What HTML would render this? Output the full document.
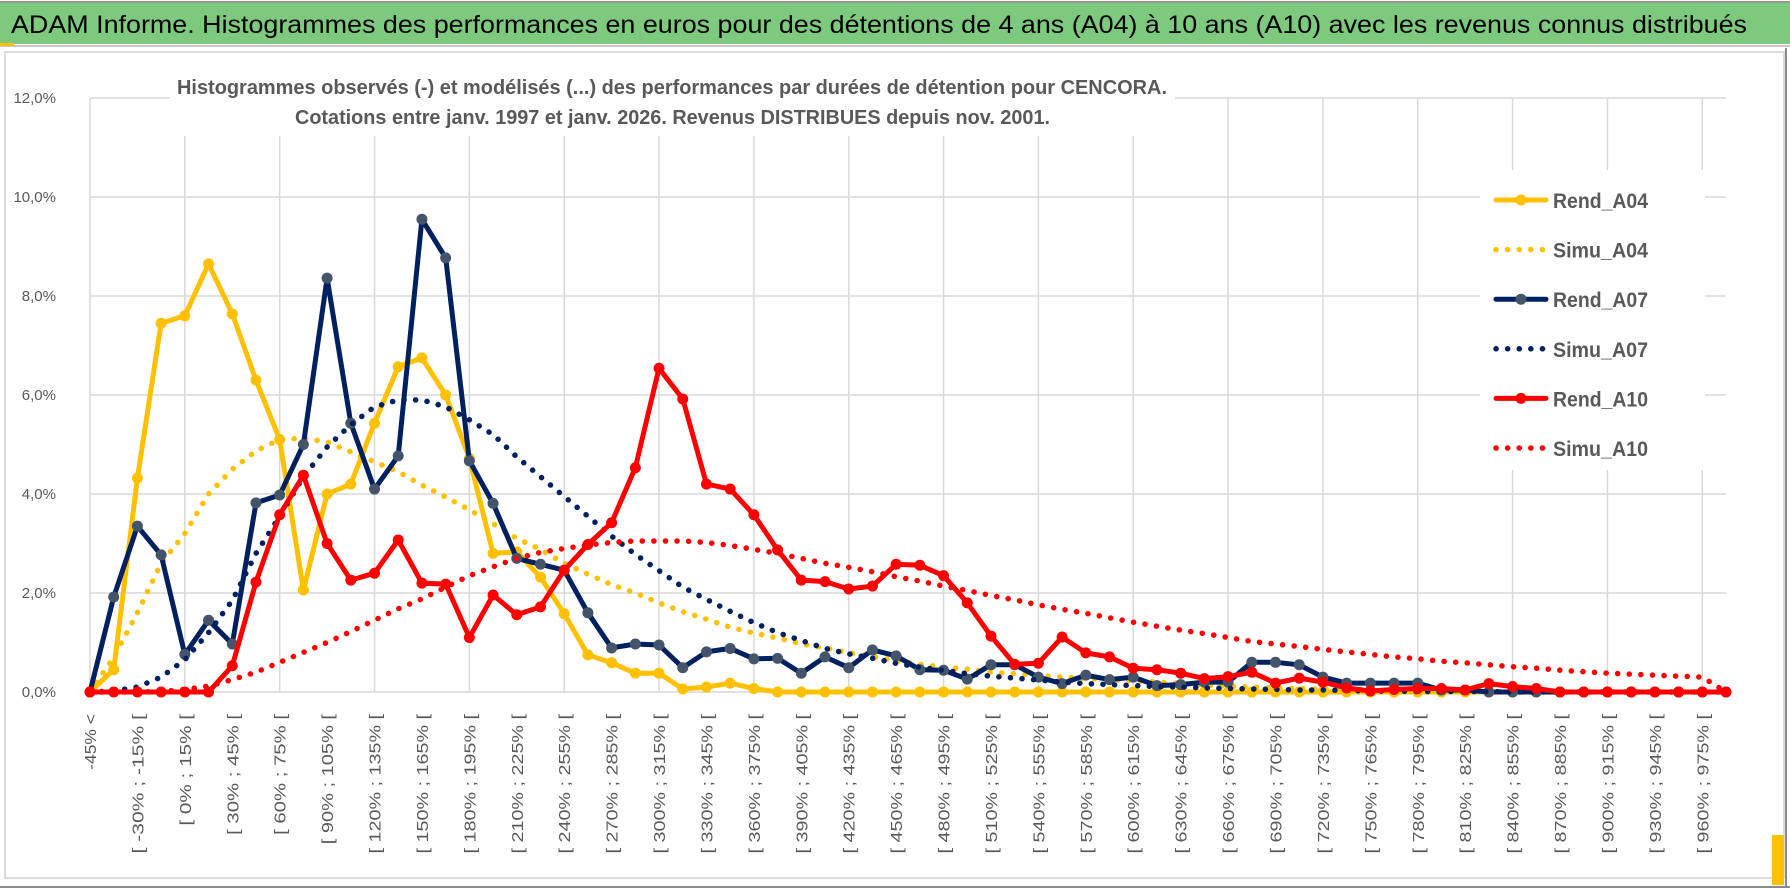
<!DOCTYPE html>
<html><head><meta charset="utf-8">
<style>
html,body{margin:0;padding:0;background:#fff;}
svg{display:block;}
text{font-family:"Liberation Sans",sans-serif;}
</style></head>
<body>
<svg id="chart" width="1790" height="888" viewBox="0 0 1790 888" xmlns="http://www.w3.org/2000/svg">
  <rect x="0" y="0" width="1790" height="888" fill="#ffffff"/>
  <rect x="0" y="3" width="1790" height="41" fill="#7dc97d"/>
  <line x1="0" y1="2" x2="1790" y2="2" stroke="#9a9a9a" stroke-width="2"/>
  <line x1="0" y1="46" x2="1790" y2="46" stroke="#c8c8c8" stroke-width="2"/>
  <rect x="0" y="43" width="14" height="3" fill="#ffc000"/>
  <text x="11" y="33" font-size="25" fill="#000" textLength="1736" lengthAdjust="spacingAndGlyphs">ADAM Informe. Histogrammes des performances en euros pour des détentions de 4 ans (A04) à 10 ans (A10) avec les revenus connus distribués</text>
  <rect x="5" y="52" width="1779" height="826" fill="none" stroke="#d0d0d0" stroke-width="1.5"/>
  <line x1="1786" y1="48" x2="1786" y2="888" stroke="#8a8a8a" stroke-width="2"/>
  <line x1="0" y1="887" x2="1790" y2="887" stroke="#8a8a8a" stroke-width="2"/>
  <rect x="1772" y="835" width="12" height="50" fill="#ffc000"/>
  <g id="grid"></g>
  <rect x="170" y="60" width="1005" height="76" fill="#ffffff"/>
  <text x="177" y="94" font-size="20" font-weight="bold" fill="#595959" textLength="990" lengthAdjust="spacingAndGlyphs">Histogrammes observés (-) et modélisés (...) des performances par durées de détention pour CENCORA.</text>
  <text x="295" y="124" font-size="20" font-weight="bold" fill="#595959" textLength="755" lengthAdjust="spacingAndGlyphs">Cotations entre janv. 1997 et janv. 2026. Revenus DISTRIBUES depuis nov. 2001.</text>
  <g id="axes"></g>
  <g id="series"></g>
  <g id="legend"></g>
</svg>
<script>
const categories = ["-45% <"];
for (let a = -45; a <= 990; a += 15) { categories.push("[ " + a + "% ; " + (a + 15) + "% ["); }
categories.length = 70;
const yTicks = [0, 2, 4, 6, 8, 10, 12];
const yTickLabels = ["0,0%", "2,0%", "4,0%", "6,0%", "8,0%", "10,0%", "12,0%"];
const rendA04 = [0,0.45,4.32,7.45,7.6,8.65,7.64,6.3,5.1,2.06,4.0,4.2,5.43,6.57,6.75,6.0,4.72,2.8,2.83,2.32,1.58,0.75,0.59,0.38,0.38,0.06,0.1,0.18,0.07,0,0,0,0,0,0,0,0,0,0,0,0,0,0,0,0,0,0,0,0,0,0,0,0,0,0,0,0,0,0,0,0,0,0,0,0,0,0,0,0,0];
const simuA04 = [0,0.7,1.6,2.6,3.2,4.0,4.5,4.87,5.1,5.13,5.05,4.85,4.65,4.45,4.18,3.94,3.68,3.4,3.1,2.88,2.6,2.38,2.17,2.0,1.8,1.62,1.47,1.31,1.19,1.09,0.97,0.89,0.79,0.72,0.63,0.56,0.5,0.46,0.4,0.37,0.33,0.3,0.27,0.25,0.23,0.2,0.17,0.14,0.12,0.1,0.08,0.07,0.06,0.05,0.04,0.03,0.02,0.01,0.01,0.01,0,0,0,0,0,0,0,0,0,0];
const rendA07 = [0,1.92,3.35,2.77,0.76,1.45,0.97,3.82,3.98,5.0,8.36,5.43,4.1,4.77,9.55,8.77,4.67,3.81,2.7,2.58,2.46,1.6,0.89,0.97,0.95,0.49,0.81,0.88,0.67,0.68,0.38,0.71,0.49,0.85,0.73,0.45,0.44,0.26,0.55,0.55,0.3,0.17,0.34,0.25,0.3,0.13,0.15,0.2,0.2,0.6,0.6,0.55,0.3,0.18,0.18,0.18,0.18,0.04,0.04,0,0,0,0,0,0,0,0,0,0,0];
const simuA07 = [0,0.02,0.1,0.3,0.65,1.2,1.85,2.8,3.55,4.35,4.95,5.4,5.76,5.9,5.9,5.76,5.5,5.2,4.75,4.35,3.95,3.55,3.15,2.78,2.45,2.12,1.87,1.63,1.4,1.2,1.04,0.88,0.77,0.68,0.58,0.5,0.44,0.37,0.32,0.28,0.24,0.2,0.17,0.15,0.13,0.11,0.1,0.08,0.07,0.06,0.05,0.04,0.04,0.03,0.02,0.02,0.01,0.01,0.01,0.01,0,0,0,0,0,0,0,0,0,0];
const rendA10 = [0,0,0,0,0,0,0.53,2.22,3.58,4.38,3.0,2.26,2.4,3.07,2.2,2.18,1.1,1.96,1.56,1.72,2.46,2.98,3.42,4.53,6.54,5.92,4.2,4.1,3.58,2.87,2.26,2.23,2.08,2.14,2.58,2.56,2.35,1.8,1.13,0.56,0.58,1.11,0.79,0.71,0.48,0.45,0.38,0.27,0.31,0.4,0.18,0.28,0.2,0.08,0.02,0.05,0.07,0.07,0.04,0.17,0.11,0.07,0,0,0,0,0,0,0,0];
const simuA10 = [0,0,0,0.01,0.05,0.12,0.25,0.4,0.6,0.8,1.0,1.22,1.45,1.68,1.88,2.12,2.35,2.53,2.7,2.82,2.9,2.97,3.02,3.05,3.05,3.05,3.02,2.96,2.88,2.8,2.7,2.6,2.52,2.43,2.33,2.24,2.14,2.05,1.95,1.86,1.76,1.67,1.59,1.5,1.41,1.33,1.25,1.18,1.1,1.02,0.97,0.92,0.86,0.81,0.76,0.71,0.67,0.62,0.59,0.55,0.51,0.48,0.44,0.41,0.38,0.36,0.34,0.32,0.3,0];

const NS = "http://www.w3.org/2000/svg";
const X0 = 90, DX = 23.71, Y0 = 692, PER = 49.5;
function xPos(i){ return X0 + i * DX; }
function yPos(v){ return Y0 - v * PER; }
function mk(tag, parent, attrs){ const e = document.createElementNS(NS, tag); for (const k in attrs) e.setAttribute(k, attrs[k]); parent.appendChild(e); return e; }

const grid = document.getElementById("grid");
const xEnd = xPos(categories.length - 1);
yTicks.forEach(function(t){
  const l = mk("line", grid, {x1: X0, x2: xEnd, y1: yPos(t), y2: yPos(t), stroke: "#d9d9d9", "stroke-width": 1.5});
  
  
});
for (let i = 4; i < categories.length; i += 4) {
  const l = mk("line", grid, {x1: xPos(i), x2: xPos(i), y1: yPos(12), y2: Y0, stroke: "#d9d9d9", "stroke-width": 1.5});
  
  
}

const axes = document.getElementById("axes");
const yAxis = mk("line", axes, {x1: X0, x2: X0, y1: yPos(12), y2: Y0, stroke: "#d9d9d9", "stroke-width": 1.5});


yTicks.forEach(function(t, k){
  const tx = mk("text", axes, {x: 56, y: yPos(t) + 5, "font-size": 15, fill: "#595959", "text-anchor": "end"});
  tx.textContent = yTickLabels[k];
  
  
});
categories.forEach(function(c, i){
  if (i % 2 !== 0) return;
  const x = xPos(i) + 6, y = 714;
  const tx = mk("text", axes, {x: x, y: y, "font-size": 16, fill: "#595959", "text-anchor": "end", transform: "rotate(-90 " + x + " " + y + ")", textLength: (c.length * 9.3).toFixed(1), lengthAdjust: "spacingAndGlyphs"});
  tx.textContent = c;
  
  
});

const seriesG = document.getElementById("series");
function pts(arr){ return arr.map(function(v, i){ return xPos(i).toFixed(1) + "," + yPos(v).toFixed(1); }).join(" "); }
function drawRend(arr, color, markColor, name){
  const g = mk("g", seriesG, {});
  
  
  const p = mk("polyline", g, {points: pts(arr), fill: "none", stroke: color, "stroke-width": 5, "stroke-linejoin": "round"});
  
  
  arr.forEach(function(v, i){
    const c = mk("circle", g, {cx: xPos(i), cy: yPos(v), r: 5.5, fill: markColor});
    
    
  });
}
function drawSimu(arr, color, name){
  const p = mk("polyline", seriesG, {points: pts(arr), fill: "none", stroke: color, "stroke-width": 5.5, "stroke-linecap": "round", "stroke-dasharray": "0.1 11.5"});
  
  
}
drawRend(rendA04, "#ffc000", "#ffc000", "rend-a04-series");
drawSimu(simuA04, "#ffc000", "simu-a04-series");
drawRend(rendA07, "#002060", "#44546a", "rend-a07-series");
drawSimu(simuA07, "#002060", "simu-a07-series");
drawRend(rendA10, "#ff0000", "#ff0000", "rend-a10-series");
drawSimu(simuA10, "#ff0000", "simu-a10-series");

const legendNames = ["Rend_A04", "Simu_A04", "Rend_A07", "Simu_A07", "Rend_A10", "Simu_A10"];
const legendColors = ["#ffc000", "#ffc000", "#002060", "#002060", "#ff0000", "#ff0000"];
const legendMarks = ["#ffc000", null, "#44546a", null, "#ff0000", null];
const legend = document.getElementById("legend");
const lbg = mk("rect", legend, {x: 1480, y: 170, width: 225, height: 300, fill: "#ffffff"});


legendNames.forEach(function(n, k){
  const cy = 200 + k * 49.6;
  const g = mk("g", legend, {});
  
  
  if (legendMarks[k]) {
    mk("line", g, {x1: 1496, x2: 1546, y1: cy, y2: cy, stroke: legendColors[k], "stroke-width": 5, "stroke-linecap": "round"});
    mk("circle", g, {cx: 1521, cy: cy, r: 5.5, fill: legendMarks[k]});
  } else {
    mk("line", g, {x1: 1496, x2: 1546, y1: cy, y2: cy, stroke: legendColors[k], "stroke-width": 5.5, "stroke-linecap": "round", "stroke-dasharray": "0.1 11.5"});
  }
  const t = mk("text", g, {x: 1553, y: cy + 8, "font-size": 21, "font-weight": "bold", fill: "#595959", textLength: 95, lengthAdjust: "spacingAndGlyphs"});
  t.textContent = n;
});
</script>
</body></html>
